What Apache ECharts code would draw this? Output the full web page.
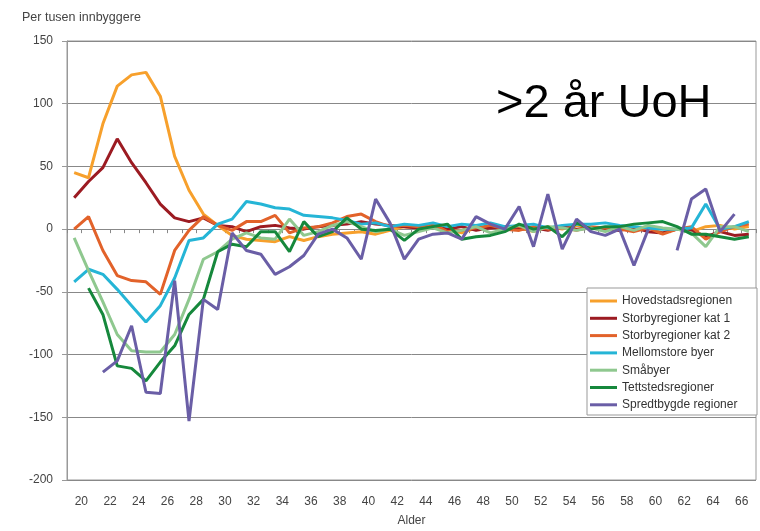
<!DOCTYPE html>
<html lang="no">
<head>
<meta charset="UTF-8">
<title>Per tusen innbyggere</title>
<script src="https://cdn.jsdelivr.net/npm/echarts@6/dist/echarts.min.js"></script>
<style>
html, body { margin: 0; padding: 0; background: #fff; }
#container { width: 760px; height: 531px; }
</style>
</head>
<body>
<div id="container"></div>
<script type="text/javascript">
// alder (punktene ligger midt i hvert aldersintervall)
var ages = [20, 21, 22, 23, 24, 25, 26, 27, 28, 29, 30, 31, 32, 33, 34, 35, 36, 37, 38, 39, 40, 41, 42, 43,
            44, 45, 46, 47, 48, 49, 50, 51, 52, 53, 54, 55, 56, 57, 58, 59, 60, 61, 62, 63, 64, 65, 66, 67];
var xTickLabels = [20, 22, 24, 26, 28, 30, 32, 34, 36, 38, 40, 42, 44, 46, 48, 50, 52, 54, 56, 58, 60, 62, 64, 66];
var yTicks = [-200, -150, -100, -50, 0, 50, 100, 150];

var seriesNames = ['Hovedstadsregionen', 'Storbyregioner kat 1', 'Storbyregioner kat 2', 'Mellomstore byer',
                   'Småbyer', 'Tettstedsregioner', 'Spredtbygde regioner'];
var seriesColors = ['#f7a02c', '#9c1b22', '#e2622a', '#25b5d6', '#8fc88f', '#16883c', '#6a5ea6'];

var hovedstad = [45, 41, 84, 114, 123, 125, 106, 58, 31, 12, 3,
                 -5, -8, -9, -10, -6, -9, -6, -4, -3, -2, -4, -1, 2,
                 1, 2, 0, -3, 1, 2, 0, 1, -2, 2, 0, 3,
                 1, -1, 2, 0, 1, -3, 0, -2, 2, 3, 0, 2];
var storby1 = [25, 38, 49, 72, 53, 37, 20, 9, 6, 9, 3,
               2, -2, 2, 3, 1, 0, 2, 3, 4, 6, 4, 3, 2,
               1, 3, 0, 2, -1, 1, 2, 0, 1, -1, 2, 0,
               1, 0, -1, 1, -2, -3, 0, -1, -6, -2, -5, -4];
var storby2 = [0, 10, -17, -37, -41, -42, -52, -17, -1, 10, 3,
               -1, 6, 6, 11, -3, 1, 2, 5, 10, 12, 6, 2, 3,
               2, 4, -2, -1, 1, 3, 0, -1, 2, 0, 1, -1,
               2, 1, 0, -2, 1, -4, 0, 2, -8, -2, 2, 4];
var mellomstore = [-42, -32, -36, -48, -61, -74, -61, -39, -9, -7, 4,
                   8, 22, 20, 17, 16, 11, 10, 9, 7, 4, 5, 2, 4,
                   3, 5, 2, 4, 3, 5, 2, 3, 4, 1, 3, 4,
                   4, 5, 3, 2, 1, 0, 0, 1, 20, 0, 2, 6];
var smaabyer = [-7, -33, -58, -84, -97, -98, -98, -84, -56, -24, -18,
                -8, -3, -7, -8, 8, -5, -2, 3, 6, 2, -2, 0, -5,
                -2, 1, -3, -1, 2, -3, 0, 3, -2, 2, 1, -1,
                1, -2, 2, -1, 3, 1, 0, -3, -14, 2, 2, -2];
var tettsted = [null, -47, -68, -109, -111, -121, -106, -93, -68, -56, -18,
                -12, -14, -2, -2, -18, 6, -6, -2, 9, 0, -1, 0, -9,
                0, 2, 4, -8, -6, -5, -2, 4, 0, 2, -6, 5,
                0, 2, 2, 4, 5, 6, 2, -4, -4, -6, -8, -6];
var spredtbygd = [null, null, -114, -105, -77, -130, -131, -41, -153, -56, -64,
                  -3, -17, -20, -36, -30, -21, -4, 0, -7, -24, 24, 5, -24,
                  -8, -4, -3, -8, 10, 4, 0, 18, -14, 28, -16, 8,
                  -2, -5, 0, -29, 0, null, -17, 24, 32, -2, 12, null];

var allValues = [hovedstad, storby1, storby2, mellomstore, smaabyer, tettsted, spredtbygd];

function toPoints(vals) {
    return ages.map(function (a, i) {
        return [a - 0.5, vals[i] == null ? '-' : vals[i]];
    });
}

var dom = document.getElementById('container');
var myChart = echarts.init(dom, null, {renderer: 'canvas'});

var series = seriesNames.map(function (name, k) {
    return {
        name: name,
        type: 'line',
        xAxisIndex: 0,
        yAxisIndex: 0,
        symbol: 'none',
        color: seriesColors[k],
        lineStyle: {width: 3, color: seriesColors[k]},
        data: toPoints(allValues[k])
    };
});

var option = {
    animation: false,
    backgroundColor: '#fff',
    textStyle: {fontFamily: 'Liberation Sans, Arial, sans-serif'},
    title: {
        text: 'Per tusen innbyggere',
        left: 22,
        top: 11,
        padding: 0,
        textStyle: {fontSize: 12.5, fontWeight: 'normal', color: '#444'}
    },
    grid: {
        left: 67,
        right: 4,
        top: 41,
        bottom: 51,
        show: true,
        borderColor: '#999',
        borderWidth: 1,
        outerBoundsMode: 'none'
    },
    legend: {
        data: seriesNames,
        orient: 'vertical',
        left: 585,
        top: 288,
        padding: [6, 5, 3, 5],
        icon: 'rect',
        itemWidth: 27,
        itemHeight: 3,
        itemGap: 3.3,
        z: 10,
        textStyle: {fontSize: 12, color: '#333', lineHeight: 14}
    },
    xAxis: [{
        type: 'value',
        min: 19,
        max: 67,
        interval: 1,
        name: 'Alder',
        nameLocation: 'middle',
        nameGap: 35,
        nameTextStyle: {fontSize: 12, color: '#444'},
        axisLine: {show: false, onZero: false},
        axisTick: {show: false},
        splitLine: {show: false},
        axisLabel: {
            margin: 16,
            fontSize: 12,
            color: '#444',
            formatter: function (v) {
                return xTickLabels.indexOf(v) >= 0 ? String(v) : '';
            }
        }
    }, {
        type: 'value',
        min: 19,
        max: 67,
        interval: 1,
        position: 'bottom',
        axisLine: {show: true, onZero: true, lineStyle: {color: '#888'}},
        axisTick: {show: true, length: 4, lineStyle: {color: '#888'}},
        axisLabel: {show: false},
        splitLine: {show: false}
    }],
    yAxis: {
        type: 'value',
        min: yTicks[0],
        max: yTicks[yTicks.length - 1],
        interval: 50,
        axisLine: {show: true, lineStyle: {color: '#999'}},
        axisTick: {show: true, length: 5, lineStyle: {color: '#999'}},
        axisLabel: {fontSize: 12, color: '#444', margin: 14},
        splitLine: {show: true, lineStyle: {color: '#888', width: 1}}
    },
    graphic: [{
        type: 'rect',
        z: 3,
        shape: {x: 587, y: 288, width: 170, height: 127},
        style: {fill: '#fff', stroke: '#999', lineWidth: 1}
    }, {
        type: 'text',
        z: 5,
        style: {
            x: 496,
            y: 104,
            text: '>2 år UoH',
            fontSize: 47,
            fontFamily: 'Liberation Sans, Arial, sans-serif',
            fill: '#000',
            textVerticalAlign: 'middle'
        }
    }],
    series: series
};

myChart.setOption(option);
</script>
</body>
</html>
